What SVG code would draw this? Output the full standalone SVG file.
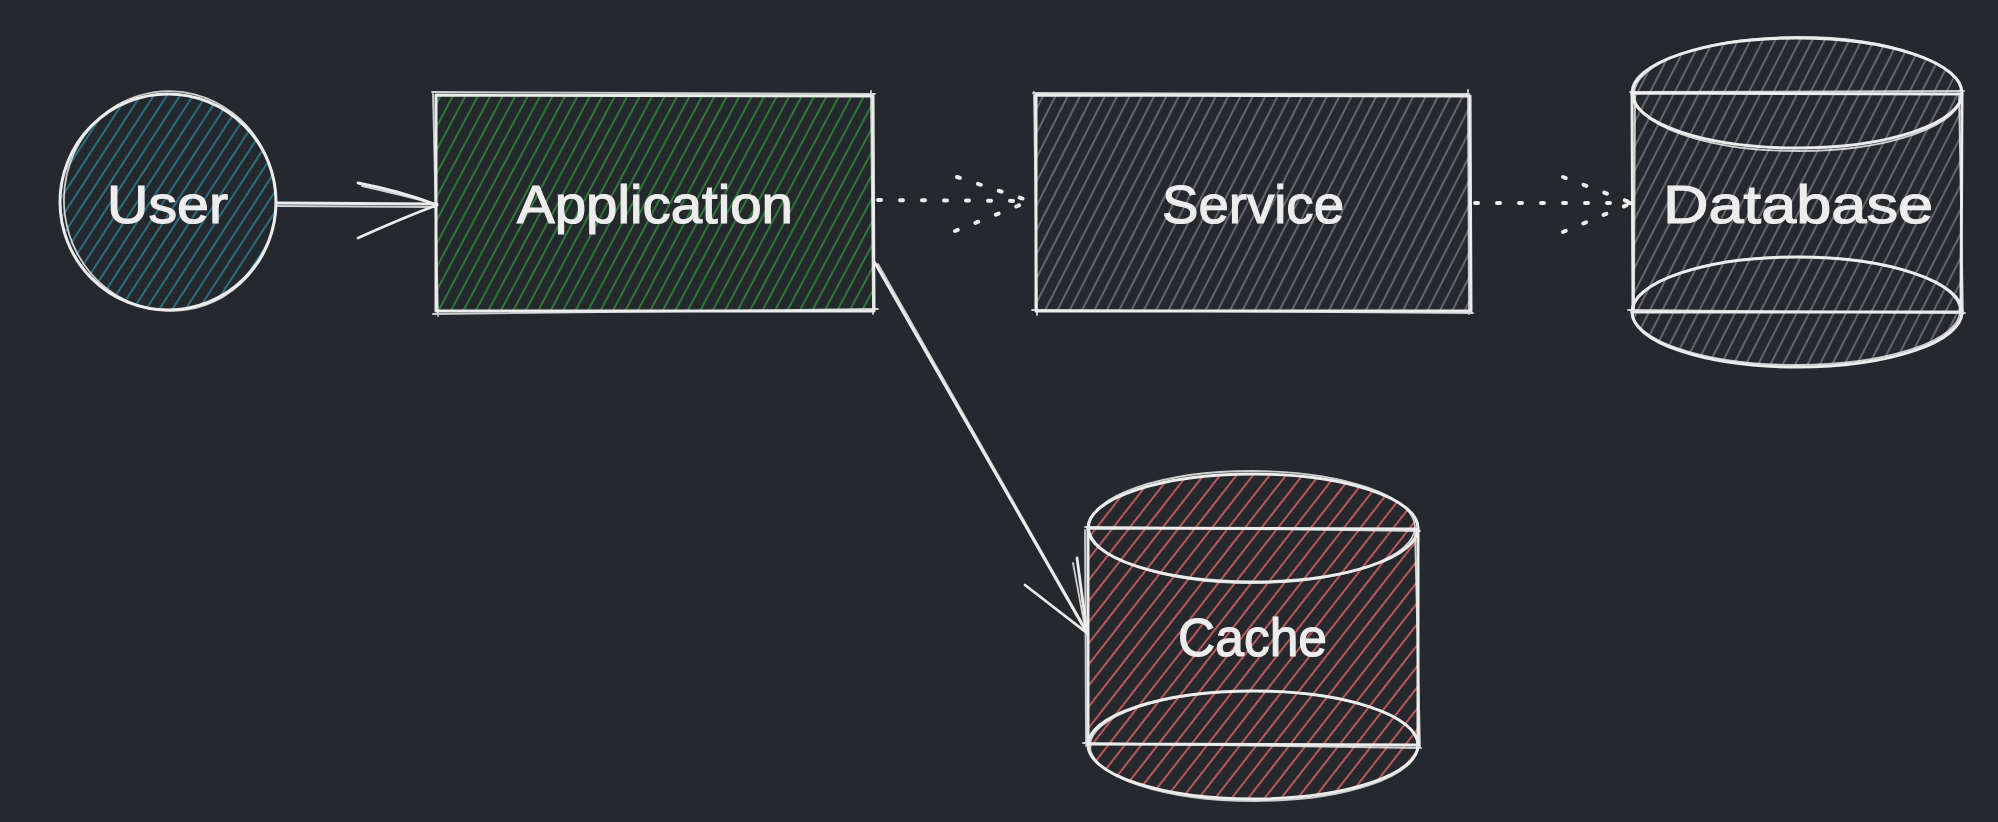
<svg xmlns="http://www.w3.org/2000/svg" width="1998" height="822" viewBox="0 0 1998 822">
<defs>
  <pattern id="hTeal" patternUnits="userSpaceOnUse" width="11" height="11" patternTransform="rotate(33)">
    <line x1="5" y1="0" x2="5" y2="11" stroke="#2a8094" stroke-width="1.6"/>
  </pattern>
  <pattern id="hGreen" patternUnits="userSpaceOnUse" width="11" height="11" patternTransform="rotate(28)">
    <line x1="5" y1="0" x2="5" y2="11" stroke="#2f8c37" stroke-width="1.6"/>
  </pattern>
  <pattern id="hGray" patternUnits="userSpaceOnUse" width="11" height="11" patternTransform="rotate(27)">
    <line x1="5" y1="0" x2="5" y2="11" stroke="#77797e" stroke-width="1.5"/>
  </pattern>
  <pattern id="hRed" patternUnits="userSpaceOnUse" width="13" height="13" patternTransform="rotate(38)">
    <line x1="6" y1="0" x2="6" y2="13" stroke="#d45f5f" stroke-width="1.7"/>
  </pattern>
</defs>
<style>
  .ol { fill: none; stroke: #ececec; stroke-width: 3; stroke-linecap: round; stroke-linejoin: round; }
  .ol2 { fill: none; stroke: #ececec; stroke-width: 1.8; stroke-linecap: round; stroke-linejoin: round; opacity: 0.85; }
  .lbl { font-family: "Liberation Sans", Arial, sans-serif; font-size: 54px; fill: #ededed; stroke: #ededed; stroke-width: 1.2; text-anchor: middle; }
  .solid { fill: none; stroke: #ececec; stroke-width: 2.8; stroke-linecap: round; }
  .dot { fill: none; stroke: #ececec; stroke-width: 4; stroke-linecap: round; stroke-dasharray: 3 19; }
</style>
<rect x="0" y="0" width="1998" height="822" fill="#25282d"/>

<g id="user">
  <circle cx="168" cy="202" r="108" fill="url(#hTeal)"/>
  <circle class="ol" cx="168" cy="202" r="108"/>
  <ellipse class="ol2" cx="170" cy="201" rx="106" ry="110" transform="rotate(-8 170 201)"/>
  <text class="lbl" x="167.5" y="223" textLength="121" lengthAdjust="spacingAndGlyphs">User</text>
</g>

<g id="application">
  <rect x="436" y="95" width="437" height="216" fill="url(#hGreen)"/>
  <path class="ol" d="M436,95 L873,96 M873,96 L874,311 M874,311 L436,311 M436,311 L436,95"/>
  <path class="ol2" d="M432,92 L875,94 M871,91 L873,314 M878,309 L433,314 M438,316 L433,93"/>
  <text class="lbl" x="655" y="223" textLength="276" lengthAdjust="spacingAndGlyphs">Application</text>
</g>

<g id="service">
  <rect x="1036" y="95" width="434" height="216" fill="url(#hGray)"/>
  <path class="ol" d="M1036,95 L1470,96 M1470,96 L1471,311 M1471,311 L1036,311 M1036,311 L1036,95"/>
  <path class="ol2" d="M1033,93 L1469,94 M1468,90 L1469,314 M1473,313 L1032,310 M1037,315 L1034,92"/>
  <text class="lbl" x="1253" y="223" textLength="182" lengthAdjust="spacingAndGlyphs">Service</text>
</g>

<g id="database">
  <path d="M1632,93 A165,55 0 0 1 1962,93 L1962,312 A165,55 0 0 1 1632,312 Z" fill="url(#hGray)"/>
  <ellipse class="ol" cx="1797" cy="93" rx="165" ry="55"/>
  <ellipse class="ol" cx="1797" cy="312" rx="165" ry="55"/>
  <path class="ol" d="M1632,93 L1962,94 M1962,94 L1961,312 M1962,312 L1632,312 M1633,312 L1632,93"/>
  <path class="ol2" d="M1630,92 L1964,91 M1628,310 L1965,313 M1635,96 L1634,310 M1959,96 L1963,314"/>
  <ellipse class="ol2" cx="1798" cy="94" rx="164" ry="57"/>
  <ellipse class="ol2" cx="1796" cy="311" rx="164" ry="54"/>
  <text class="lbl" x="1798" y="223" textLength="270" lengthAdjust="spacingAndGlyphs">Database</text>
</g>

<g id="cache">
  <path d="M1088,528 A165,54 0 0 1 1418,528 L1418,745 A165,54 0 0 1 1088,745 Z" fill="url(#hRed)"/>
  <ellipse class="ol" cx="1253" cy="528" rx="165" ry="54"/>
  <ellipse class="ol" cx="1253" cy="745" rx="165" ry="54"/>
  <path class="ol" d="M1088,528 L1418,529 M1418,529 L1418,745 M1418,745 L1088,744 M1088,744 L1088,528"/>
  <path class="ol2" d="M1085,527 L1420,531 M1083,743 L1421,748 M1085,530 L1086,746 M1415,531 L1420,747"/>
  <ellipse class="ol2" cx="1252" cy="527" rx="163" ry="56"/>
  <ellipse class="ol2" cx="1254" cy="746" rx="164" ry="55"/>
  <text class="lbl" x="1252.5" y="656" textLength="149" lengthAdjust="spacingAndGlyphs">Cache</text>
</g>

<g id="connectors">
  <path class="solid" d="M277,203 L437,204"/>
  <path class="ol2" d="M277,206 L436,207"/>
  <path class="solid" d="M358,183 Q400,191 437,205"/>
  <path class="solid" d="M358,238 Q400,219 437,205"/>
  <path class="ol2" d="M362,186 Q402,195 436,204"/>

  <path class="dot" d="M878,200 L1030,201"/>
  <path class="dot" d="M957,177 L1030,201"/>
  <path class="dot" d="M955,231 L1030,201"/>

  <path class="dot" d="M1475,203 L1632,203"/>
  <path class="dot" d="M1563,177 L1632,203"/>
  <path class="dot" d="M1563,232 L1632,203"/>

  <path class="solid" d="M875,263 L1087,633"/>
  <path class="ol2" d="M878,264 L1085,628"/>
  <path class="solid" d="M1025,585 L1087,633"/>
  <path class="solid" d="M1077,558 L1087,633"/>
  <path class="ol2" d="M1073,563 L1085,628"/>
</g>
</svg>
